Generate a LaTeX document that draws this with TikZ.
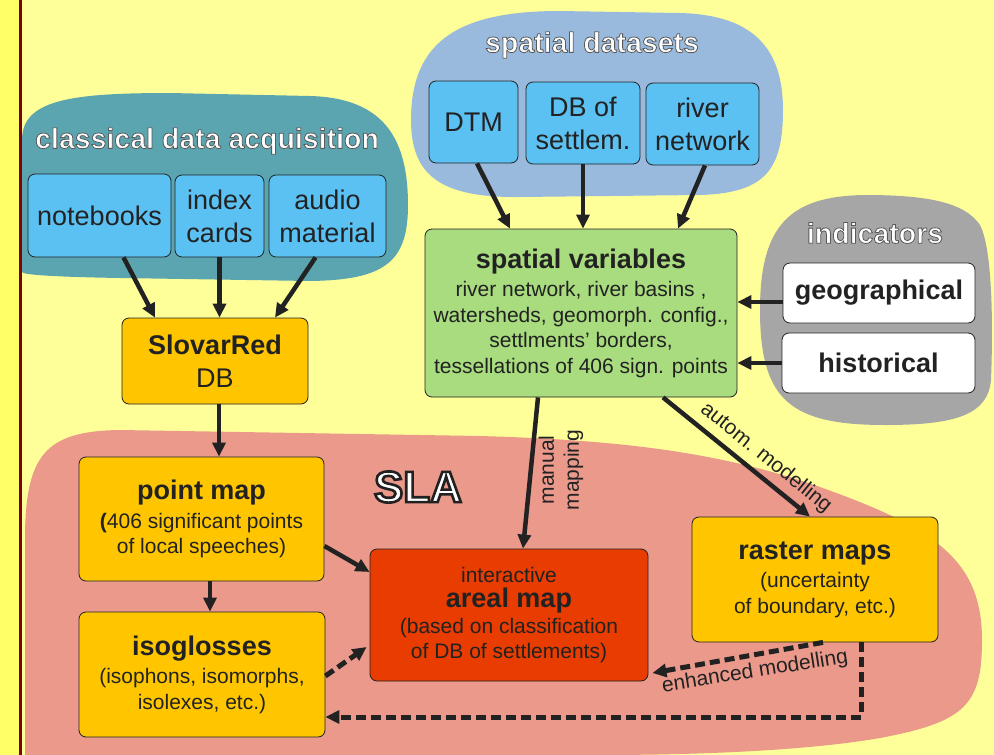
\documentclass[tikz,border=0pt]{standalone}
\usepackage{fontspec}
\setmainfont{Liberation Sans}
\usetikzlibrary{arrows.meta}
\definecolor{bgyellow}{HTML}{FFFF99}
\definecolor{stripyellow}{HTML}{FFFF66}
\definecolor{stripred}{HTML}{800000}
\definecolor{acqteal}{HTML}{5BA5B0}
\definecolor{setblue}{HTML}{99BADC}
\definecolor{indgrey}{HTML}{A6A6A6}
\definecolor{slapink}{HTML}{EA998B}
\definecolor{srcblue}{HTML}{5BC0F2}
\definecolor{mapyellow}{HTML}{FFC600}
\definecolor{varsgreen}{HTML}{A8DC7E}
\definecolor{arealred}{HTML}{E83C00}
\definecolor{ink}{HTML}{222222}
\newcommand{\hd}[1]{{\fontsize{27}{30}\selectfont\bfseries #1}}
\newcommand{\outl}[3]{\special{pdf:literal direct 2 Tr #1 w #2 RG}#3\special{pdf:literal direct 0 Tr}}
\begin{document}
\begin{tikzpicture}[x=1pt, y=-1pt,
                    box/.style   = {draw = ink,
                                    line width = 0.8pt,
                                    rounded corners = 7pt,
                                    text = ink,
                                    align = center,
                                    inner sep = 0pt},
                    src/.style   = {box, fill = srcblue, font = \fontsize{27}{33}\selectfont},
                    res/.style   = {box, fill = mapyellow, font = \fontsize{21}{25.5}\selectfont},
                    ind/.style   = {box, fill = white, font = \fontsize{27}{30}\selectfont\bfseries},
                    title/.style = {text = white, inner sep = 0pt, font = \fontsize{28.5}{30}\selectfont\bfseries},
                    lbl/.style   = {text = ink, align = center, inner sep = 0pt, font = \fontsize{21}{25}\selectfont},
                    arr/.style   = {draw = ink, line width = 4.5pt, -{Triangle[length = 14pt, width = 13pt]}},
                    darr/.style  = {arr, line width = 5pt, dash pattern = on 10pt off 5pt}]
	\useasboundingbox (0,0) rectangle (994,755);
	\fill[bgyellow] (0,0) rectangle (994,755);
	\fill[stripyellow] (0,0) rectangle (19,755);
	\fill[stripred] (19,0) rectangle (22,755);
	\fill[acqteal] (22,272) -- (22,140) .. controls (22,100) and (70,93) .. (170,93) -- (310,96)
		.. controls (385,98) and (408,140) .. (408,205) .. controls (408,262) and (385,280) .. (310,281)
		-- (120,278) .. controls (60,277) and (22,275) .. cycle;
	\fill[setblue] (411,120) .. controls (411,40) and (460,11) .. (560,11) -- (680,13)
		.. controls (755,15) and (783,50) .. (783,110) .. controls (783,170) and (765,193) .. (700,195)
		-- (520,197) .. controls (440,198) and (411,175) .. cycle;
	\fill[indgrey] (760,310) .. controls (760,225) and (790,196) .. (865,195) .. controls (930,195) and (965,203) .. (980,225)
		.. controls (993,250) and (993,330) .. (991,380) .. controls (988,415) and (955,425) .. (885,425)
		.. controls (790,425) and (760,400) .. cycle;
	\fill[slapink] (25,755) -- (25,540) .. controls (25,455) and (45,431) .. (120,430) -- (480,436)
		.. controls (620,440) and (720,452) .. (820,487) .. controls (935,528) and (982,560) .. (982,640)
		.. controls (982,705) and (965,722) .. (880,738) .. controls (800,752) and (680,755) .. (600,755) -- cycle;

	\node[title] (acqt) at (207,141) {\outl{0.8}{0.35 0.35 0.35}{classical data acquisition}};
	\node[title] (sett) at (592,45) {\outl{0.8}{0.35 0.35 0.35}{spatial datasets}};
	\node[title] (indt) at (875,233) {\outl{0.8}{0.35 0.35 0.35}{indicators}};
	\node[title, font = \fontsize{44}{48}\selectfont\bfseries] (sla) at (418,487) {\outl{2.6}{0.13 0.13 0.13}{SLA}};

	\node[src, minimum width = 143pt, minimum height = 83pt] (nb) at (99.5,215.5) {notebooks};
	\node[src, minimum width = 89pt, minimum height = 82pt] (cards) at (219.5,216) {index\\cards};
	\node[src, minimum width = 117pt, minimum height = 82pt] (audio) at (327.5,216) {audio\\material};
	\node[src, fill = mapyellow, minimum width = 186pt, minimum height = 86pt] (sr) at (215,361) {\hd{SlovarRed}\\DB};

	\node[src, minimum width = 89pt, minimum height = 82pt] (dtm) at (473.5,122) {DTM};
	\node[src, minimum width = 114pt, minimum height = 82pt] (dbs) at (583,123) {DB of\\settlem.};
	\node[src, minimum width = 113pt, minimum height = 82pt] (rn) at (702.5,124) {river\\network};
	\node[res, fill = varsgreen, minimum width = 312pt, minimum height = 168pt] (sv) at (581,313)
		{\hd{spatial variables}\\[3pt]river network, river basins ,\\watersheds, geomorph. config.,\\settlments' borders,\\tessellations of 406 sign. points};
	\node[ind, minimum width = 192pt, minimum height = 60pt] (geo) at (879,293) {geographical};
	\node[ind, minimum width = 193pt, minimum height = 60pt] (hist) at (878.5,363) {historical};

	\node[res, minimum width = 245pt, minimum height = 124pt] (pm) at (201.5,519)
		{\hd{point map}\\[3pt]\textbf{(}406 significant points\\of local speeches)};
	\node[res, minimum width = 246pt, minimum height = 125pt] (iso) at (202,674.5)
		{\hd{isoglosses}\\[3pt](isophons, isomorphs,\\isolexes, etc.)};
	\node[res, fill = arealred, minimum width = 278pt, minimum height = 132pt] (am) at (509,615)
		{interactive\\\hd{areal map}\\(based on classification\\of DB of settlements)};
	\node[res, minimum width = 246pt, minimum height = 125pt] (rm) at (815,579.5)
		{\hd{raster maps}\\[3pt](uncertainty\\of boundary, etc.)};

	\node[lbl, rotate = 90] (mm) at (561,470) {manual\\mapping};
	\node[lbl, rotate = -39] (amod) at (766,458) {autom. modelling};
	\node[lbl, rotate = 9] (emod) at (755,672) {enhanced modelling};

	\path ([xshift=24pt]nb.south) edge[arr] ([xshift=-60pt]sr.north)
	      (cards.south) edge[arr] (cards.south |- sr.north)
	      ([xshift=-12pt]audio.south) edge[arr] ([xshift=60pt]sr.north)
	      ([xshift=4pt]sr.south) edge[arr] ([xshift=4pt]sr.south |- pm.north)
	      ([xshift=3.5pt]dtm.south) edge[arr] ([xshift=-71pt]sv.north)
	      (dbs.south) edge[arr] (dbs.south |- sv.north)
	      ([xshift=2.5pt]rn.south) edge[arr] ([xshift=97pt]sv.north)
	      ([yshift=-9pt]geo.west) edge[arr] ([yshift=-9pt]geo.west -| sv.east)
	      (hist.west) edge[arr] (hist.west -| sv.east)
	      ([xshift=-43pt]sv.south) edge[arr] ([xshift=14pt]am.north)
	      ([xshift=82pt]sv.south) edge[arr] ([xshift=-5pt]rm.north)
	      ([yshift=-27pt]pm.east) edge[arr] ([yshift=43pt]am.west)
	      ([xshift=8.5pt]pm.south) edge[arr] ([xshift=8.5pt]pm.south |- iso.north)
	      ([yshift=-1.5pt]iso.east) edge[darr] ([xshift=-3pt, yshift=-32pt]am.west)
	      ([xshift=8pt]rm.south) edge[darr] ([xshift=4pt, yshift=-58pt]am.east);
	\draw[darr] ([xshift=46pt]rm.south) |- ([yshift=-42.5pt]iso.east);
\end{tikzpicture}
\end{document}
